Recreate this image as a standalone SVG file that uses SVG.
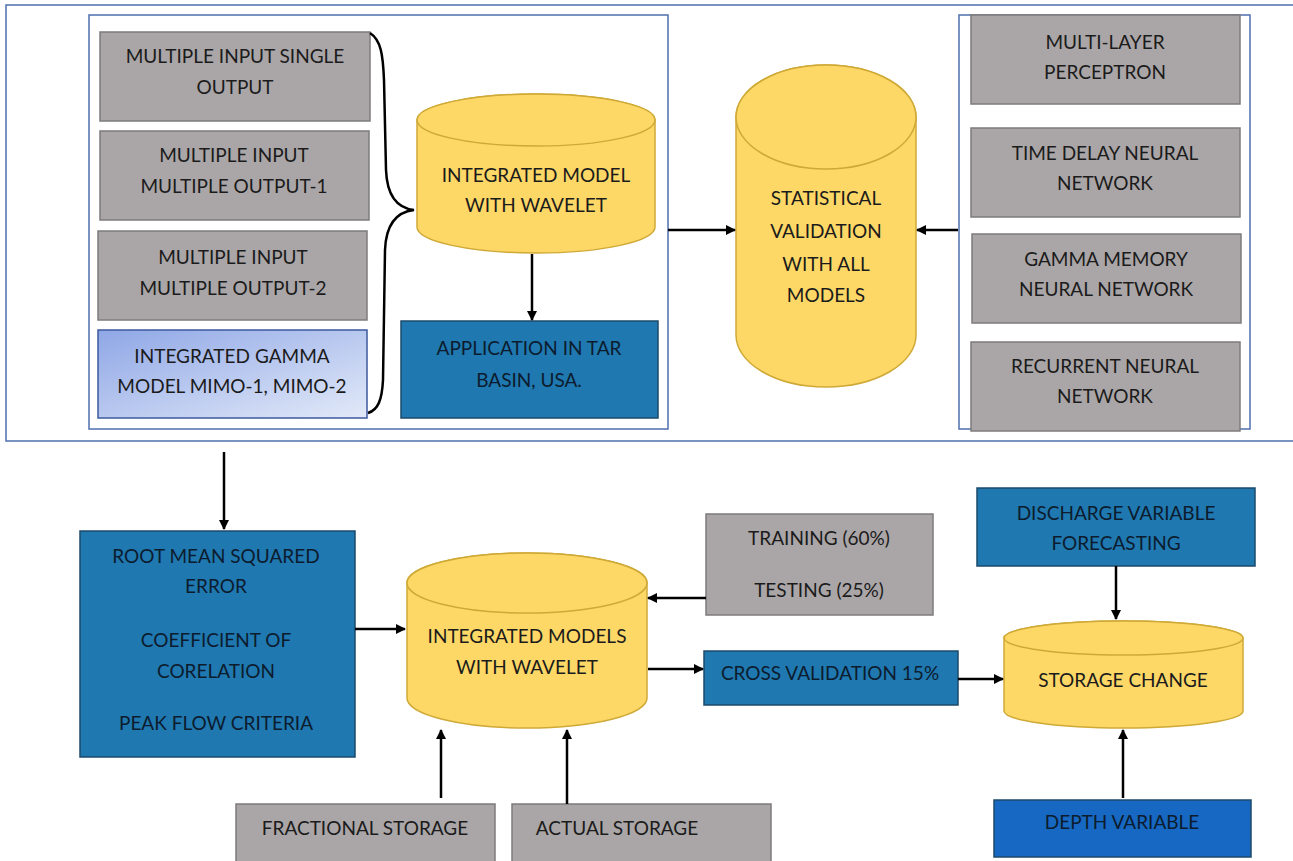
<svg xmlns="http://www.w3.org/2000/svg" width="1293" height="861" viewBox="0 0 1293 861">
<defs>
<marker id="ah" viewBox="0 0 10 10" refX="9" refY="5" markerWidth="4" markerHeight="4" orient="auto" markerUnits="strokeWidth">
<path d="M0,0 L10,5 L0,10 Z" fill="#000"/>
</marker>
<linearGradient id="gam" x1="0" y1="0" x2="1" y2="1">
<stop offset="0" stop-color="#8fa7e6"/>
<stop offset="1" stop-color="#e2e9f8"/>
</linearGradient>
<style>
text{font-family:Lato,"Liberation Sans",sans-serif;font-size:19px;text-anchor:middle;fill:#1b1b1b}
.frame{fill:none;stroke:#4f6fae;stroke-width:1.5}
.gray{fill:#aaa6a7;stroke:#7d7b7c;stroke-width:1.5}
.blue{fill:#1f78b0;stroke:#1c4a6b;stroke-width:1.5}
.blue2{fill:#1668c2;stroke:#1c4a6b;stroke-width:1.5}
.gam{fill:url(#gam);stroke:#3c5a9e;stroke-width:1.5}
.cyl{fill:#fdd867;stroke:#cfa936;stroke-width:1.5}
.bt{fill:#0c1c2e}
.con{fill:none;stroke:#000;stroke-width:2.5}
.arr{marker-end:url(#ah)}
</style>
</defs>
<rect width="1293" height="861" fill="#fff"/>
<g id="frames">
<rect class="frame" x="6" y="5" width="1290" height="436"/>
<rect class="frame" x="89" y="15" width="579" height="414"/>
<rect class="frame" x="959" y="15" width="291" height="414"/>
</g>
<g id="n-miso"><rect class="gray" x="100" y="32" width="270" height="89"/><text x="235" y="63">MULTIPLE INPUT SINGLE</text><text x="235" y="94">OUTPUT</text></g>
<g id="n-mimo1"><rect class="gray" x="100" y="131" width="269" height="89"/><text x="234" y="162">MULTIPLE INPUT</text><text x="234" y="193">MULTIPLE OUTPUT-1</text></g>
<g id="n-mimo2"><rect class="gray" x="98" y="231" width="269" height="89"/><text x="233" y="264">MULTIPLE INPUT</text><text x="233" y="295">MULTIPLE OUTPUT-2</text></g>
<g id="n-gamma"><rect class="gam" x="98" y="330" width="269" height="88"/><text x="232" y="363">INTEGRATED GAMMA</text><text x="232" y="393">MODEL MIMO-1, MIMO-2</text></g>
<g id="n-imw"><path class="cyl" d="M417,120 A119,26 0 0 1 655,120 V227 A119,26 0 0 1 417,227 Z"/><ellipse class="cyl" cx="536" cy="120" rx="119" ry="26"/><text x="536" y="182">INTEGRATED MODEL</text><text x="536" y="212">WITH WAVELET</text></g>
<g id="n-app"><rect class="blue" x="401" y="321" width="257" height="97"/><text class="bt" x="529" y="355">APPLICATION IN TAR</text><text class="bt" x="529" y="387">BASIN, USA.</text></g>
<g id="n-stat"><path class="cyl" d="M736,117 A90,52 0 0 1 916,117 V335 A90,52 0 0 1 736,335 Z"/><ellipse class="cyl" cx="826" cy="117" rx="90" ry="52"/><text x="826" y="205">STATISTICAL</text><text x="826" y="238">VALIDATION</text><text x="826" y="271">WITH ALL</text><text x="826" y="302">MODELS</text></g>
<g id="n-mlp"><rect class="gray" x="971" y="15" width="269" height="89"/><text x="1105" y="49">MULTI-LAYER</text><text x="1105" y="79">PERCEPTRON</text></g>
<g id="n-tdnn"><rect class="gray" x="971" y="128" width="269" height="89"/><text x="1105" y="160">TIME DELAY NEURAL</text><text x="1105" y="190">NETWORK</text></g>
<g id="n-gmnn"><rect class="gray" x="972" y="234" width="269" height="89"/><text x="1106" y="266">GAMMA MEMORY</text><text x="1106" y="296">NEURAL NETWORK</text></g>
<g id="n-rnn"><rect class="gray" x="971" y="342" width="269" height="89"/><text x="1105" y="373">RECURRENT NEURAL</text><text x="1105" y="403">NETWORK</text></g>
<g id="n-rmse"><rect class="blue" x="80" y="531" width="275" height="226"/><text class="bt" x="216" y="563">ROOT MEAN SQUARED</text><text class="bt" x="216" y="593">ERROR</text><text class="bt" x="216" y="647">COEFFICIENT OF</text><text class="bt" x="216" y="678">CORELATION</text><text class="bt" x="216" y="730">PEAK FLOW CRITERIA</text></g>
<g id="n-imws"><path class="cyl" d="M407,583 A120,30 0 0 1 647,583 V698 A120,30 0 0 1 407,698 Z"/><ellipse class="cyl" cx="527" cy="583" rx="120" ry="30"/><text x="527" y="643">INTEGRATED MODELS</text><text x="527" y="674">WITH WAVELET</text></g>
<g id="n-train"><rect class="gray" x="706" y="514" width="227" height="101"/><text x="819" y="545">TRAINING (60%)</text><text x="819" y="597">TESTING (25%)</text></g>
<g id="n-cross"><rect class="blue" x="704" y="651" width="254" height="54"/><text class="bt" x="830" y="680">CROSS VALIDATION 15%</text></g>
<g id="n-disch"><rect class="blue" x="977" y="488" width="278" height="78"/><text class="bt" x="1116" y="520">DISCHARGE VARIABLE</text><text class="bt" x="1116" y="550">FORECASTING</text></g>
<g id="n-store"><path class="cyl" d="M1004,638 A119.5,17 0 0 1 1243,638 V711 A119.5,17 0 0 1 1004,711 Z"/><ellipse class="cyl" cx="1123.5" cy="638" rx="119.5" ry="17"/><text x="1123" y="687">STORAGE CHANGE</text></g>
<g id="n-depth"><rect class="blue2" x="994" y="800" width="257" height="57"/><text class="bt" x="1122" y="829">DEPTH VARIABLE</text></g>
<g id="n-frac"><rect class="gray" x="236" y="804" width="259" height="62"/><text x="365" y="835">FRACTIONAL STORAGE</text></g>
<g id="n-actual"><rect class="gray" x="512" y="804" width="259" height="62"/><text x="617" y="835">ACTUAL STORAGE</text></g>
<g id="connectors">
<path class="con" stroke-width="2" d="M370,33 C381,40 383,55 384,80 L386,170 C387,195 396,208 414,210 C396,212 386,225 385,250 L383,380 C382,400 378,410 368,413"/>
<line class="con arr" x1="532" y1="254" x2="532" y2="320"/>
<line class="con arr" x1="668" y1="230" x2="735" y2="230"/>
<line class="con arr" x1="958" y1="230" x2="917" y2="230"/>
<line class="con arr" x1="224" y1="452" x2="224" y2="529"/>
<line class="con arr" x1="355" y1="629" x2="405" y2="629"/>
<line class="con arr" x1="706" y1="598" x2="648" y2="598"/>
<line class="con arr" x1="648" y1="669" x2="703" y2="669"/>
<line class="con arr" x1="958" y1="679" x2="1003" y2="679"/>
<line class="con arr" x1="1116" y1="566" x2="1116" y2="619"/>
<line class="con arr" x1="1123" y1="798" x2="1123" y2="730"/>
<line class="con arr" x1="441" y1="798" x2="441" y2="730"/>
<line class="con arr" x1="567" y1="804" x2="567" y2="730"/>
</g>
</svg>
